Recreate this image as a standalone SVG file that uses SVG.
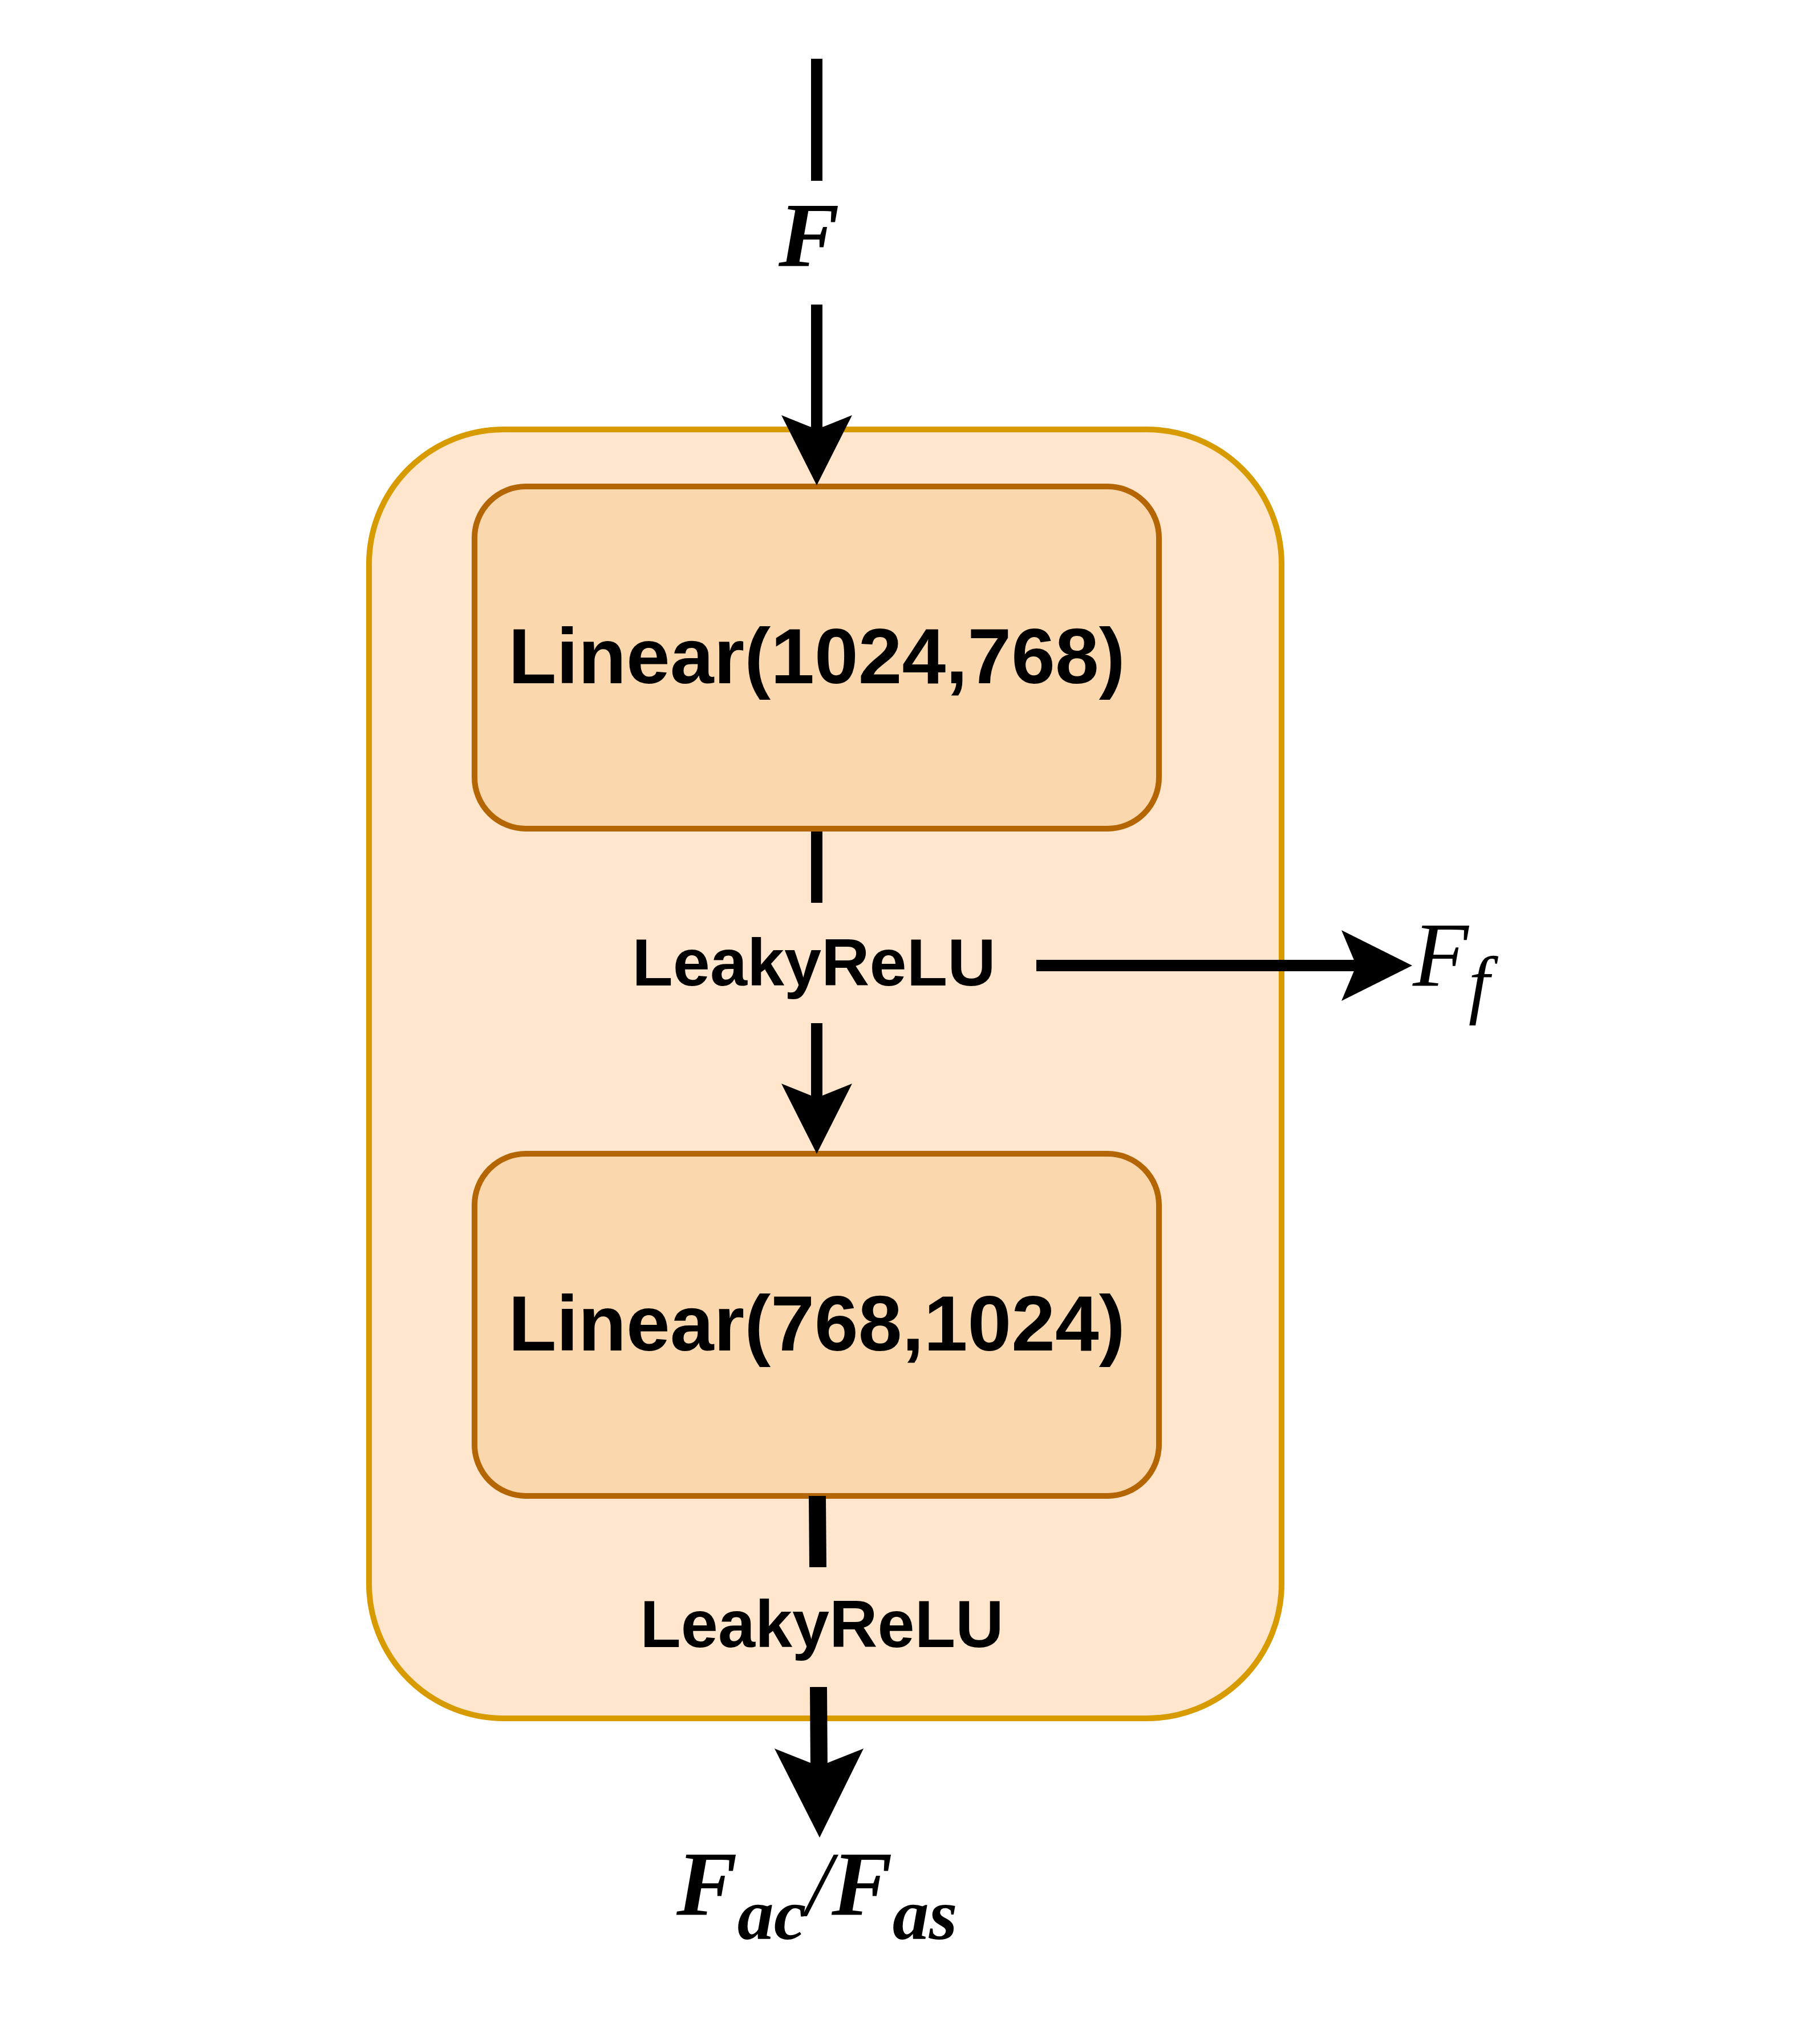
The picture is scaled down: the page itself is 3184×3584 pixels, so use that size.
<svg xmlns="http://www.w3.org/2000/svg" width="3184" height="3584" viewBox="0 0 3184 3584">
<style>
.outer{fill:#FFE6CC;stroke:#D79B00;stroke-width:10}
.inner{fill:#FAD7AC;stroke:#B46504;stroke-width:10}
.lbl{font-family:"Liberation Sans",Arial,sans-serif;font-weight:bold;fill:#000}
.math{font-family:"Liberation Serif","Times New Roman",serif;font-style:italic;fill:#000}
.ln{stroke:#000;fill:none}
</style>
<rect width="3184" height="3584" fill="#fff"/>
<g id="container">
<rect class="outer" x="647" y="753" width="1600" height="2260" rx="236" ry="236"/>
</g>
<g id="linear1">
<rect class="inner" x="832" y="853" width="1200" height="600" rx="90" ry="90"/>
<text class="lbl" x="1432" y="1198" font-size="138" text-anchor="middle">Linear(1024,768)</text>
</g>
<g id="linear2">
<rect class="inner" x="832" y="2023" width="1200" height="600" rx="90" ry="90"/>
<text class="lbl" x="1432" y="2368" font-size="138" text-anchor="middle">Linear(768,1024)</text>
</g>
<g id="labels">
<text class="math" x="1365" y="467" font-size="160" font-weight="bold">F</text>
<text class="lbl" x="1427" y="1728" font-size="117" text-anchor="middle">LeakyReLU</text>
<text class="lbl" x="1441" y="2888" font-size="117" text-anchor="middle">LeakyReLU</text>
<text class="math" x="2477" y="1728" font-size="160">F<tspan font-size="133" dy="42">f</tspan></text>
<text class="math" x="1186" y="3358" font-size="160" font-weight="bold">F<tspan font-size="128" dy="42">ac</tspan><tspan dy="-42" font-weight="normal">/</tspan>F<tspan font-size="128" dy="42">as</tspan></text>
</g>
<g id="connectors">
<line class="ln" x1="1432" y1="103" x2="1432" y2="317" stroke-width="20"/>
<line class="ln" x1="1432" y1="534" x2="1432" y2="760" stroke-width="20"/>
<polygon points="1432,851 1370,728 1432,753 1494,728" fill="#000"/>
<line class="ln" x1="1432" y1="1458" x2="1432" y2="1583" stroke-width="20"/>
<line class="ln" x1="1432" y1="1794" x2="1432" y2="1930" stroke-width="20"/>
<polygon points="1432,2023 1370,1900 1432,1925 1494,1900" fill="#000"/>
<line class="ln" x1="1817" y1="1693" x2="2385" y2="1693" stroke-width="20"/>
<polygon points="2476,1693 2352,1631 2378,1693 2352,1755" fill="#000"/>
<line class="ln" x1="1433" y1="2623" x2="1434" y2="2748" stroke-width="30"/>
<line class="ln" x1="1435" y1="2958" x2="1436" y2="3105" stroke-width="30"/>
<polygon points="1437,3222 1358,3066 1436,3097 1514,3066" fill="#000"/>
</g>
</svg>
